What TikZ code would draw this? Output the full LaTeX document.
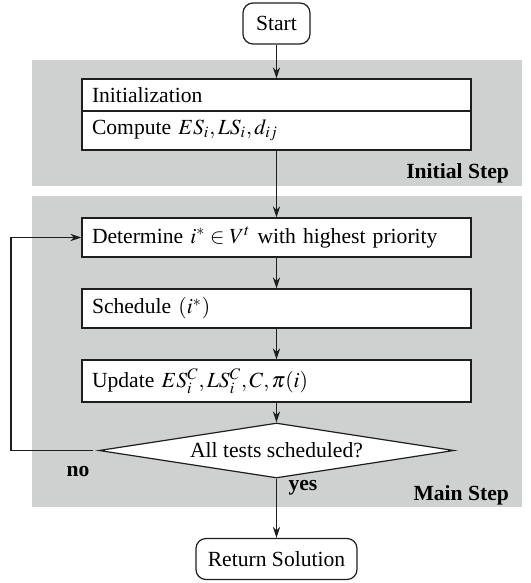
\documentclass[tikz,border=0pt]{standalone}
\usepackage{mathptmx}
\usepackage[no-math]{fontspec}
\setmainfont{Liberation Serif}
\usepackage{tikz}
\usetikzlibrary{shapes.geometric,arrows.meta}
\definecolor{stepgray}{RGB}{207,209,208}
\definecolor{linedark}{RGB}{30,30,30}

\begin{document}
\begin{tikzpicture}[
  x=0.5pt, y=-0.5pt,
  font=\fontsize{10.8}{13}\selectfont,
  terminal/.style={draw=linedark, line width=0.6pt, rounded corners=5pt, minimum height=20.5pt},
  action/.style={draw=linedark, line width=0.6pt, fill=white, text width=184.5pt, align=left, inner xsep=5pt, inner ysep=0pt, minimum height=19.5pt},
  decision/.style={draw=linedark, line width=0.6pt, fill=white, diamond, aspect=6.45, inner sep=0pt, minimum width=177.5pt, minimum height=27.5pt},
  flow/.style={draw=linedark, line width=0.6pt, -{Stealth[length=5.5pt,width=3.6pt]}},
  steplabel/.style={font=\fontsize{10.8}{13}\selectfont\bfseries, anchor=east}
]
\useasboundingbox (0,0) rectangle (530,583);

% shaded phases
\fill[stepgray] (32,60) rectangle (522,186);
\fill[stepgray] (32,196) rectangle (522,507);
\node[steplabel] (initlbl) at (516,173) {Initial Step};
\node[steplabel] (mainlbl) at (516,495) {Main Step};

% flow chart
\node[terminal, minimum width=33.5pt] (start) at (276.5,23.5) {Start};
\node[action, minimum height=16pt] (init) at (276.5,95) {Initialization};
\node[action] (comp) at (276.5,130.5) {Compute $ES_i, LS_i, d_{ij}$};
\node[action] (det) at (276.5,237.5) {Determine $i^{*} \in V^{t}$ with highest priority};
\node[action] (sched) at (276.5,308.5) {Schedule $(i^{*})$};
\node[action, minimum height=21pt] (upd) at (276.5,381) {Update $ES_i^C, LS_i^C, C, \pi(i)$};
\node[decision] (dec) at (276.5,450.5) {All tests scheduled?};
\node[terminal, minimum width=80.5pt] (ret) at (276.5,559) {Return Solution};
\coordinate (loop) at (11,0);

\node[font=\fontsize{10.8}{13}\selectfont\bfseries] (no) at (78,472) {no};
\node[font=\fontsize{10.8}{13}\selectfont\bfseries] (yes) at (303,488) {yes};

% connectors
\draw[flow] (start) -- (init);
\draw[flow] (comp) -- (det);
\draw[flow] (det) -- (sched);
\draw[flow] (sched) -- (upd);
\draw[flow] (upd) -- (dec);
\draw[flow] (dec) -- (ret);
\draw[flow] ([xshift=-2.5pt]dec.west) -- (dec.west -| loop) |- (det.west);
\end{tikzpicture}
\end{document}
